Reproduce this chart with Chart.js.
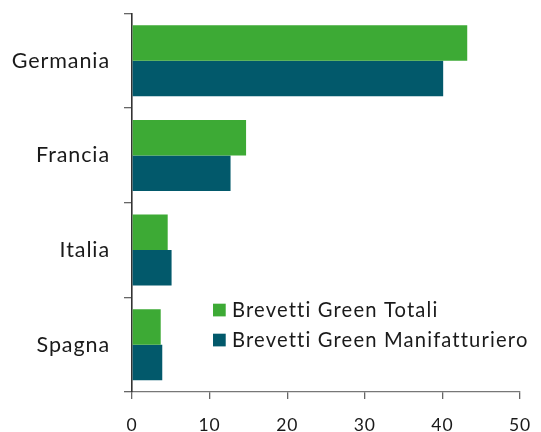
<!DOCTYPE html>
<html>
<head>
<meta charset="utf-8">
<script src="https://cdn.jsdelivr.net/npm/chart.js@4/dist/chart.umd.min.js"></script>
<style>
  html, body { margin: 0; padding: 0; background: #ffffff; }
  #wrap { width: 541px; height: 432px; position: relative; }
</style>
</head>
<body>
<div id="wrap"><canvas id="c" width="541" height="432"></canvas></div>
<script>
const categories = ["Germania", "Francia", "Italia", "Spagna"];
const totali = [43.2, 14.7, 4.6, 3.7];
const manifatturiero = [40.1, 12.7, 5.1, 3.9];
const seriesNames = ["Brevetti Green Totali", "Brevetti Green Manifatturiero"];
const xTicks = [0, 10, 20, 30, 40, 50];

const GREEN = "#3DAA35";
const TEAL = "#02596B";
const TEXT = "#1a1a1a";
const FONT = "Lato, 'Open Sans', sans-serif";

const spacingPlugin = {
  id: "spacing",
  beforeUpdate(chart) { chart.ctx.letterSpacing = "0.9px"; },
  beforeDraw(chart) { chart.ctx.letterSpacing = "0.9px"; }
};

const legendPlugin = {
  id: "inlineLegend",
  afterDraw(chart) {
    const ctx = chart.ctx;
    const xs = chart.scales.x;
    const ys = chart.scales.y;
    const boxX = xs.getPixelForValue(10.44);
    const base = ys.getPixelForValue(3);
    const rowY = [base - 34.7, base - 4.7];
    ctx.save();
    ctx.letterSpacing = "1.15px";
    ctx.font = "20.2px " + FONT;
    ctx.textBaseline = "middle";
    ctx.textAlign = "left";
    chart.data.datasets.forEach((ds, i) => {
      const y = rowY[i];
      ctx.fillStyle = ds.backgroundColor;
      ctx.fillRect(boxX, y - 6.3, 12.7, 12.7);
      ctx.fillStyle = TEXT;
      ctx.fillText(ds.label, boxX + 19, y + 1);
    });
    ctx.restore();
  }
};

new Chart(document.getElementById("c"), {
  type: "bar",
  data: {
    labels: categories,
    datasets: [
      { label: seriesNames[0], data: totali, backgroundColor: GREEN, borderWidth: 0 },
      { label: seriesNames[1], data: manifatturiero, backgroundColor: TEAL, borderWidth: 0 }
    ]
  },
  options: {
    indexAxis: "y",
    responsive: false,
    animation: false,
    devicePixelRatio: 1,
    categoryPercentage: 0.75,
    barPercentage: 1.0,
    layout: { padding: { top: 13.5, right: 21, left: 0, bottom: 0 } },
    plugins: {
      legend: { display: false },
      tooltip: { enabled: false }
    },
    scales: {
      x: {
        type: "linear",
        min: 0,
        max: 50,
        afterBuildTicks: (scale) => { scale.ticks = xTicks.map(v => ({ value: v })); },
        afterFit: (scale) => { scale.height = 40; scale.paddingLeft = 0; scale.paddingRight = 0; },
        border: { display: true, color: "#777777", width: 1.3 },
        grid: { display: true, drawOnChartArea: false, drawTicks: true, tickLength: 7, color: "#666666", lineWidth: 1.3 },
        ticks: { color: TEXT, font: { family: FONT, size: 17.5 }, padding: 16, maxRotation: 0 }
      },
      y: {
        afterFit: (scale) => { scale.width = 132; scale.paddingTop = 0; scale.paddingBottom = 0; },
        border: { display: true, color: "#333333", width: 1.6 },
        grid: { display: true, offset: true, drawOnChartArea: false, drawTicks: true, tickLength: 8, color: "#666666", lineWidth: 1.3 },
        ticks: { color: TEXT, font: { family: FONT, size: 21.5 }, padding: 14 }
      }
    }
  },
  plugins: [spacingPlugin, legendPlugin]
});
</script>
</body>
</html>
